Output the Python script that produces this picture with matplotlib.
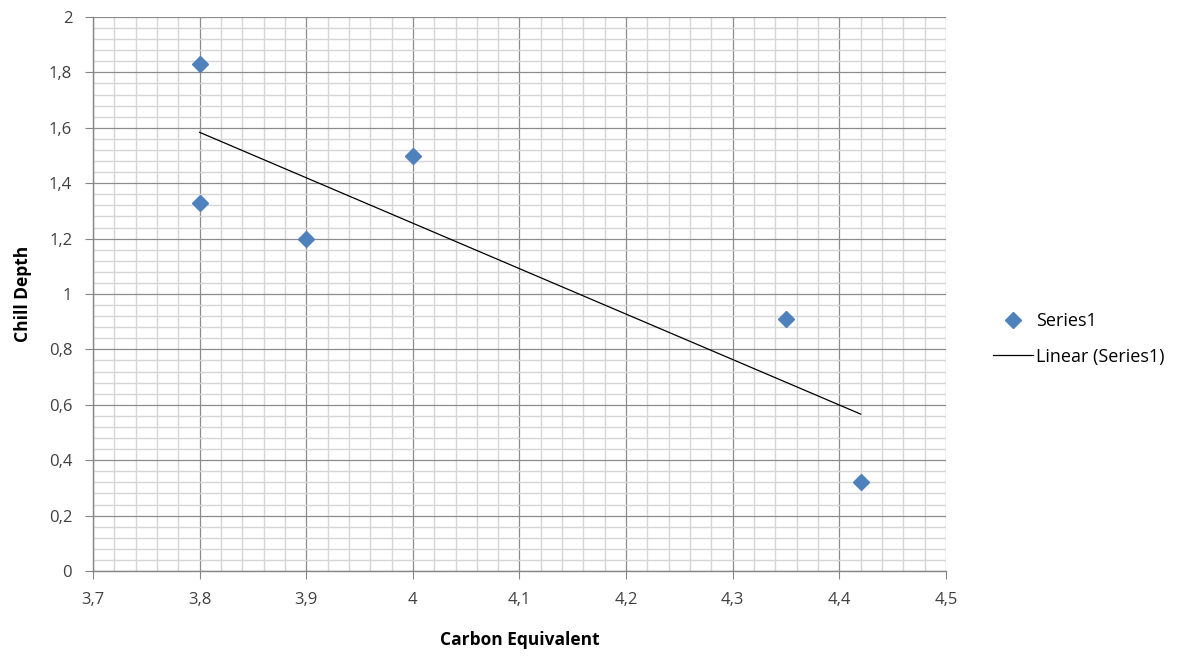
import matplotlib
matplotlib.use("Agg")
import matplotlib.pyplot as plt
import numpy as np
from matplotlib.ticker import MultipleLocator, FuncFormatter
from matplotlib.lines import Line2D

x_vals = [3.8, 3.8, 3.9, 4.0, 4.35, 4.42]
y_vals = [1.83, 1.33, 1.20, 1.50, 0.91, 0.32]
series_name = "Series1"
trend_name = "Linear (Series1)"
x_label = "Carbon Equivalent"
y_label = "Chill Depth"

plt.rcParams['font.family'] = ['Open Sans', 'DejaVu Sans']

fig = plt.figure(figsize=(11.83, 6.57), dpi=100)
ax = fig.add_axes([93/1183, 1-571/657, (946-93)/1183, (571-17)/657])

ax.set_xlim(3.7, 4.5)
ax.set_ylim(0, 2)
ax.xaxis.set_major_locator(MultipleLocator(0.1))
ax.xaxis.set_minor_locator(MultipleLocator(0.02))
ax.yaxis.set_major_locator(MultipleLocator(0.2))
ax.yaxis.set_minor_locator(MultipleLocator(0.04))

def fmt(v, pos):
    s = f"{v:.1f}"
    if s.endswith(".0"):
        s = s[:-2]
    return s.replace(".", ",")
ax.xaxis.set_major_formatter(FuncFormatter(fmt))
ax.yaxis.set_major_formatter(FuncFormatter(fmt))

ax.grid(which='minor', color='#d6d6d6', linewidth=1.0, zorder=0)
ax.grid(which='major', color='#8c8c8c', linewidth=0.9, zorder=0.5)
ax.set_axisbelow(True)

for s in ['top', 'right']:
    ax.spines[s].set_visible(False)
for s in ['left', 'bottom']:
    ax.spines[s].set_color('#868686')
    ax.spines[s].set_linewidth(1.0)

ax.tick_params(which='major', direction='out', length=6, color='#868686',
               labelsize=12, labelcolor='#404040', pad=9)
ax.tick_params(which='minor', length=0)

ax.plot(x_vals, y_vals, linestyle='none', marker='D', markersize=8,
        color='#4F81BD', markeredgecolor='#4F81BD', zorder=3, clip_on=False)

coef = np.polyfit(x_vals, y_vals, 1)
xt = np.array([min(x_vals), max(x_vals)])
ax.plot(xt, np.polyval(coef, xt), color='black', linewidth=0.9, zorder=2)

ax.set_xlabel(x_label, fontsize=12.5, fontweight='bold', labelpad=17, color='black')
ax.set_ylabel(y_label, fontsize=12.5, fontweight='bold', labelpad=12, color='black')

handles = [Line2D([], [], linestyle='none', marker='D', markersize=8, color='#4F81BD'),
           Line2D([], [], color='black', linewidth=0.9)]
leg = fig.legend(handles, [series_name, trend_name], loc='center left',
                 bbox_to_anchor=(977/1183, 1-339/657), frameon=False, fontsize=13,
                 handlelength=2.2, handletextpad=0.15, labelspacing=0.95)

fig.savefig("out.png", dpi=100)
